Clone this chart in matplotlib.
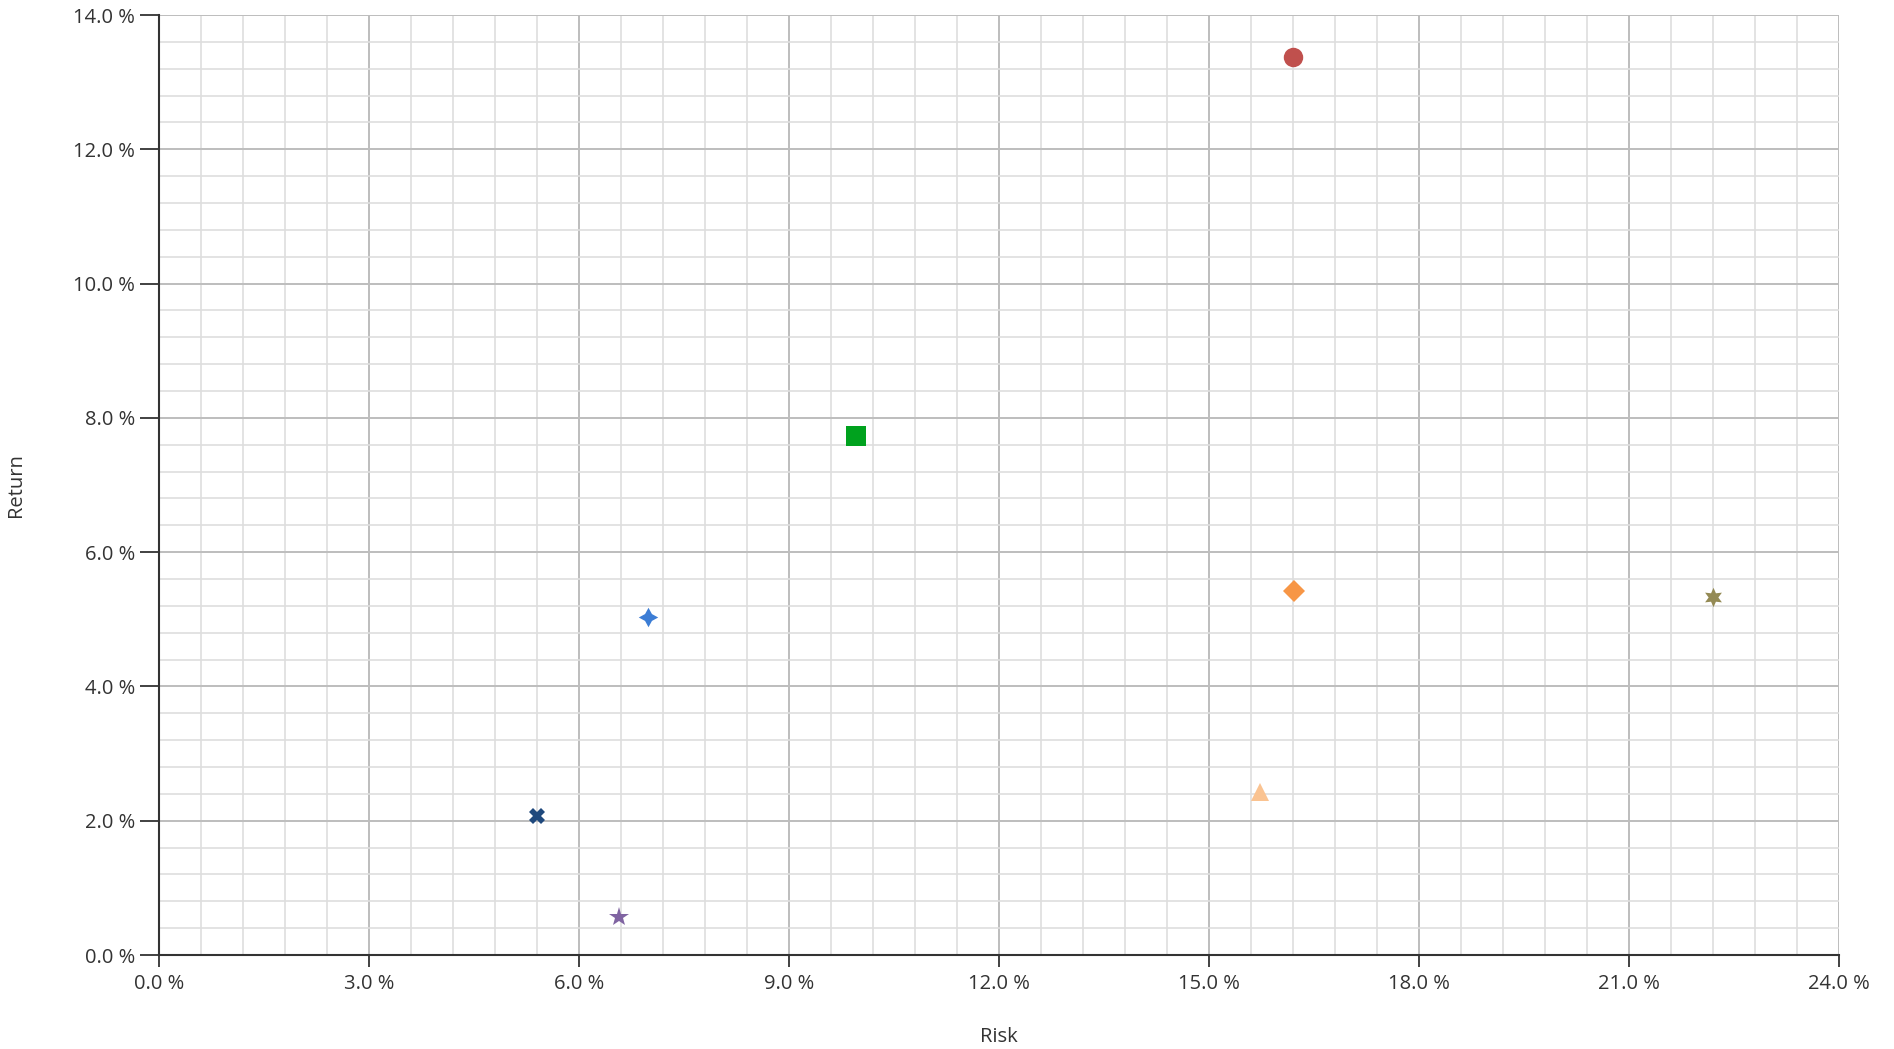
import matplotlib.pyplot as plt
from matplotlib.ticker import MultipleLocator, FuncFormatter

# Dữ liệu: rủi ro (%) và lợi nhuận (%)
risk = [16.2, 9.96, 6.99, 16.22, 22.2, 15.73, 5.40, 6.57]
ret = [13.37, 7.73, 5.03, 5.42, 5.33, 2.43, 2.07, 0.56]
colors = ['#c0504d', '#00a21e', '#3c7dd5', '#f79646', '#948a54', '#fac391', '#1f497d', '#8064a2']
markers = ['o', 's', (4, 1, 0), 'D', (6, 1, 0), '^', 'X', '*']
sizes = [14, 14, 14, 11, 14, 13, 12, 15]

plt.rcParams['font.family'] = ['Open Sans', 'DejaVu Sans']

fig = plt.figure(figsize=(18.94, 10.49), dpi=100)
ax = fig.add_axes([0.0839, 0.0896, 0.887, 0.8961])

for x, y, c, m, s in zip(risk, ret, colors, markers, sizes):
    ax.plot(x, y, linestyle='none', marker=m, color=c, markersize=s,
            markeredgewidth=0, zorder=3)

ax.set_xlim(0, 24)
ax.set_ylim(0, 14)
ax.xaxis.set_major_locator(MultipleLocator(3))
ax.xaxis.set_minor_locator(MultipleLocator(0.6))
ax.yaxis.set_major_locator(MultipleLocator(2))
ax.yaxis.set_minor_locator(MultipleLocator(0.4))
fmt = FuncFormatter(lambda v, p: '%.1f %%' % v)
ax.xaxis.set_major_formatter(fmt)
ax.yaxis.set_major_formatter(fmt)

ax.grid(which='major', color='#bdbdbd', linewidth=1.4, zorder=1)
ax.grid(which='minor', color='#dedede', linewidth=1.2, zorder=0)
ax.set_axisbelow(True)

for side in ['top', 'right']:
    ax.spines[side].set_visible(False)
for side in ['left', 'bottom']:
    ax.spines[side].set_color('#333333')
    ax.spines[side].set_linewidth(1.5)

ax.tick_params(axis='x', which='major', length=8.5, width=1.3, color='#333333',
               labelsize=14.5, labelcolor='#333333', pad=5)
ax.tick_params(axis='y', which='major', length=14, width=1.3, color='#333333',
               labelsize=14.5, labelcolor='#333333', pad=3)
ax.tick_params(which='minor', length=0)

ax.set_xlabel('Risk', fontsize=14.5, color='#333333', labelpad=24)
ax.set_ylabel('Return', fontsize=14.5, color='#333333', labelpad=34)

fig.savefig('out.png', dpi=100)
